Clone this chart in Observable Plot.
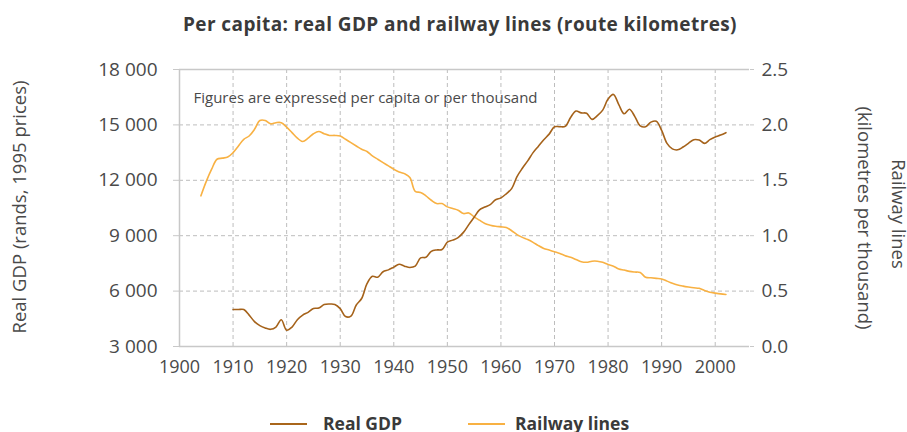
<!DOCTYPE html>
<html>
<head>
<meta charset="utf-8">
<script src="https://cdn.jsdelivr.net/npm/d3@7"></script>
<script src="https://cdn.jsdelivr.net/npm/@observablehq/plot@0.6"></script>
<style>
  html, body { margin: 0; padding: 0; background: #fff; }
  #wrap { position: relative; width: 907px; height: 432px; overflow: hidden; font-family: "Open Sans", sans-serif; }
  #title { position: absolute; left: 0; width: 920px; top: 11px; text-align: center; font-weight: 700; font-size: 19px; letter-spacing: 0.4px; color: #3a3a3a; }
  #plot { position: absolute; left: 0; top: 0; }
  .leg { position: absolute; top: 411px; font-weight: 700; font-size: 17.5px; color: #3a3a3a; }
  .sw { position: absolute; top: 423px; height: 2px; width: 37px; }
</style>
</head>
<body>
<div id="wrap">
  <div id="plot"></div>
  <div id="title">Per capita: real GDP and railway lines (route kilometres)</div>
  <div class="sw" style="left:270px;background:#a9661b"></div>
  <div class="leg" style="left:323px">Real GDP</div>
  <div class="sw" style="left:468px;background:#f8b143"></div>
  <div class="leg" style="left:515px">Railway lines</div>
</div>
<script>
const gdpYears = d3.range(1910, 2003);
const gdpValues = [
  5000, 5000, 5000, 4700, 4350, 4130, 4000, 3930, 4050, 4450,
  3880, 4050, 4450, 4700, 4850, 5060, 5080, 5270, 5300, 5280,
  5050, 4620, 4650, 5250, 5600, 6400, 6800, 6750, 7050, 7150,
  7300, 7450, 7350, 7280, 7350, 7800, 7830, 8150, 8230, 8250,
  8650, 8760, 8900, 9180, 9600, 10000, 10400, 10550, 10680, 10950,
  11050, 11270, 11550, 12200, 12650, 13050, 13500, 13850, 14200, 14500,
  14900, 14900, 14920, 15400, 15750, 15650, 15630, 15300, 15500, 15800,
  16400, 16650, 16100, 15600, 15850, 15450, 14950, 14900, 15150, 15200,
  14700, 14000, 13700, 13650, 13800, 14000, 14200, 14180, 14000, 14200,
  14350, 14450, 14580
];
const railYears = d3.range(1904, 2003);
const railValues = [
  1.36, 1.49, 1.60, 1.69, 1.70, 1.71,
  1.75, 1.81, 1.87, 1.90, 1.96, 2.04, 2.04, 2.01, 2.02, 2.02,
  1.98, 1.93, 1.88, 1.85, 1.88, 1.92, 1.94, 1.92, 1.905, 1.905,
  1.90, 1.87, 1.84, 1.81, 1.78, 1.76, 1.72, 1.69, 1.66, 1.63,
  1.60, 1.575, 1.56, 1.525, 1.40, 1.39, 1.36, 1.32, 1.29, 1.29,
  1.26, 1.245, 1.23, 1.20, 1.205, 1.17, 1.14, 1.11, 1.095, 1.085,
  1.08, 1.075, 1.045, 1.01, 0.985, 0.965, 0.94, 0.91, 0.885, 0.87,
  0.855, 0.84, 0.82, 0.805, 0.785, 0.765, 0.76, 0.77, 0.77, 0.76,
  0.74, 0.725, 0.70, 0.69, 0.678, 0.672, 0.668, 0.625, 0.62, 0.615,
  0.61, 0.59, 0.57, 0.555, 0.545, 0.537, 0.53, 0.525, 0.505, 0.49,
  0.482, 0.475, 0.47
];
const xTicks = d3.range(1900, 2001, 10);
const gdpTicks = [3000, 6000, 9000, 12000, 15000, 18000];
const railTicks = [0, 0.5, 1.0, 1.5, 2.0, 2.5];
const annotation = "Figures are expressed per capita or per thousand";
const leftTitle = "Real GDP (rands, 1995 prices)";
const rightTitle1 = "Railway lines";
const rightTitle2 = "(kilometres per thousand)";

// right axis maps onto the left scale
const railToGdp = r => 3000 + r * 6000;
const gdpToRail = g => (g - 3000) / 6000;

const gdp = gdpYears.map((y, i) => ({year: y, value: gdpValues[i]}));
const rail = railYears.map((y, i) => ({year: y, value: railToGdp(railValues[i])}));

const GRID = "#bdbdbd";
const AXIS = "#c8c8c8";
const TXT = "#4a4a4a";

const chart = Plot.plot({
  width: 907,
  height: 432,
  marginLeft: 179,
  marginRight: 158,
  marginTop: 69,
  marginBottom: 86,
  style: {fontFamily: "Open Sans, sans-serif", fontSize: "19px", color: TXT, background: "transparent"},
  x: {domain: [1900, 2006.4]},
  y: {domain: [3000, 18000]},
  marks: [
    Plot.gridY(gdpTicks.slice(1, -1), {stroke: GRID, strokeOpacity: 1, strokeDasharray: "4,3"}),
    Plot.gridX(xTicks.slice(1), {stroke: GRID, strokeOpacity: 1, strokeDasharray: "4,3"}),
    Plot.ruleY([18000], {stroke: AXIS, strokeWidth: 1.5}),
    Plot.ruleY([3000], {stroke: AXIS, strokeWidth: 1.5}),
    Plot.ruleX([1900], {stroke: AXIS, strokeWidth: 1.5}),
    Plot.axisY(gdpTicks, {anchor: "left", tickSize: 6, tickPadding: 16, stroke: AXIS, strokeOpacity: 1,
      tickFormat: d => d3.format(",")(d).replace(",", " "), label: null, fill: TXT, fontSize: 19}),
    Plot.axisY(railTicks.map(railToGdp), {anchor: "right", tickSize: 4, tickPadding: 8, stroke: AXIS, strokeOpacity: 1,
      tickFormat: d => gdpToRail(d).toFixed(1), label: null, fill: TXT, fontSize: 19}),
    Plot.axisX(xTicks, {anchor: "bottom", tickSize: 0, tickPadding: 14, tickFormat: d => String(d),
      label: null, fill: TXT, fontSize: 18}),
    Plot.line(rail, {x: "year", y: "value", stroke: "#f8b143", strokeWidth: 1.6, curve: "catmull-rom"}),
    Plot.line(gdp, {x: "year", y: "value", stroke: "#a5621a", strokeWidth: 1.6, curve: "catmull-rom"}),
    Plot.text([annotation], {text: d => d, frameAnchor: "top-left", textAnchor: "start", lineAnchor: "middle",
      dx: 14, dy: 29, fontSize: 15, fill: TXT}),
    Plot.text([leftTitle], {text: d => d, frameAnchor: "left", textAnchor: "middle", rotate: -90, dx: -159, dy: -1,
      fontSize: 18.5, fill: TXT}),
    Plot.text([rightTitle1], {text: d => d, frameAnchor: "right", textAnchor: "middle", rotate: 90, dx: 148, dy: 6,
      fontSize: 18.5, fill: TXT}),
    Plot.text([rightTitle2], {text: d => d, frameAnchor: "right", textAnchor: "middle", rotate: 90, dx: 114, dy: 10,
      fontSize: 18.5, fill: TXT})
  ]
});
document.getElementById("plot").appendChild(chart);
</script>
</body>
</html>
